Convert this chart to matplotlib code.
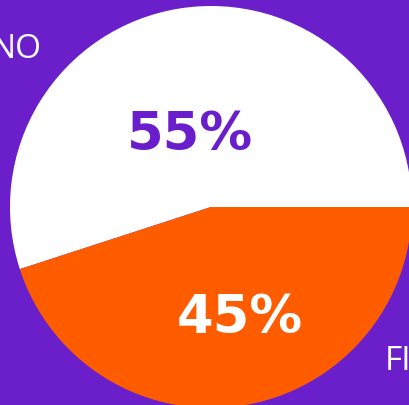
import matplotlib
matplotlib.use("Agg")
import matplotlib.pyplot as plt

labels = ["NO", "FI"]
values = [55, 45]
pct_labels = ["55%", "45%"]
colors = ["#FFFFFF", "#FF5C00"]
bg = "#6A1FCB"

W, H = 409, 406
fig = plt.figure(figsize=(W / 100, H / 100), dpi=100)
fig.patch.set_facecolor(bg)
ax = fig.add_axes([0, 0, 1, 1])
ax.set_facecolor(bg)

cx, cy, r = 211, H - 208, 201
wedges, texts, autotexts = ax.pie(
    values, colors=colors, startangle=0, counterclock=True,
    center=(cx, cy), radius=r, autopct="%1.0f%%", pctdistance=0.45,
    wedgeprops=dict(linewidth=0), frame=True,
)
pos = [(190, H - 135), (240, H - 318)]
tcol = ["#6A1ECB", "#FFFFFF"]
for t, p, c, s in zip(autotexts, pos, tcol, pct_labels):
    t.set_text(s)
    t.set_position(p)
    t.set_color(c)
    t.set_fontsize(38)
    t.set_fontweight("bold")
    t.set_ha("center")
    t.set_va("center")

ax.text(42, H - 50, labels[0], color="white", fontsize=24, ha="right", va="center",
        family="Open Sans")
ax.text(385, H - 362, labels[1], color="white", fontsize=24, ha="left", va="center",
        family="Open Sans")

ax.set_xlim(0, W)
ax.set_ylim(0, H)
ax.set_aspect("auto")
ax.axis("off")
fig.savefig("out.png", dpi=100, facecolor=bg)
